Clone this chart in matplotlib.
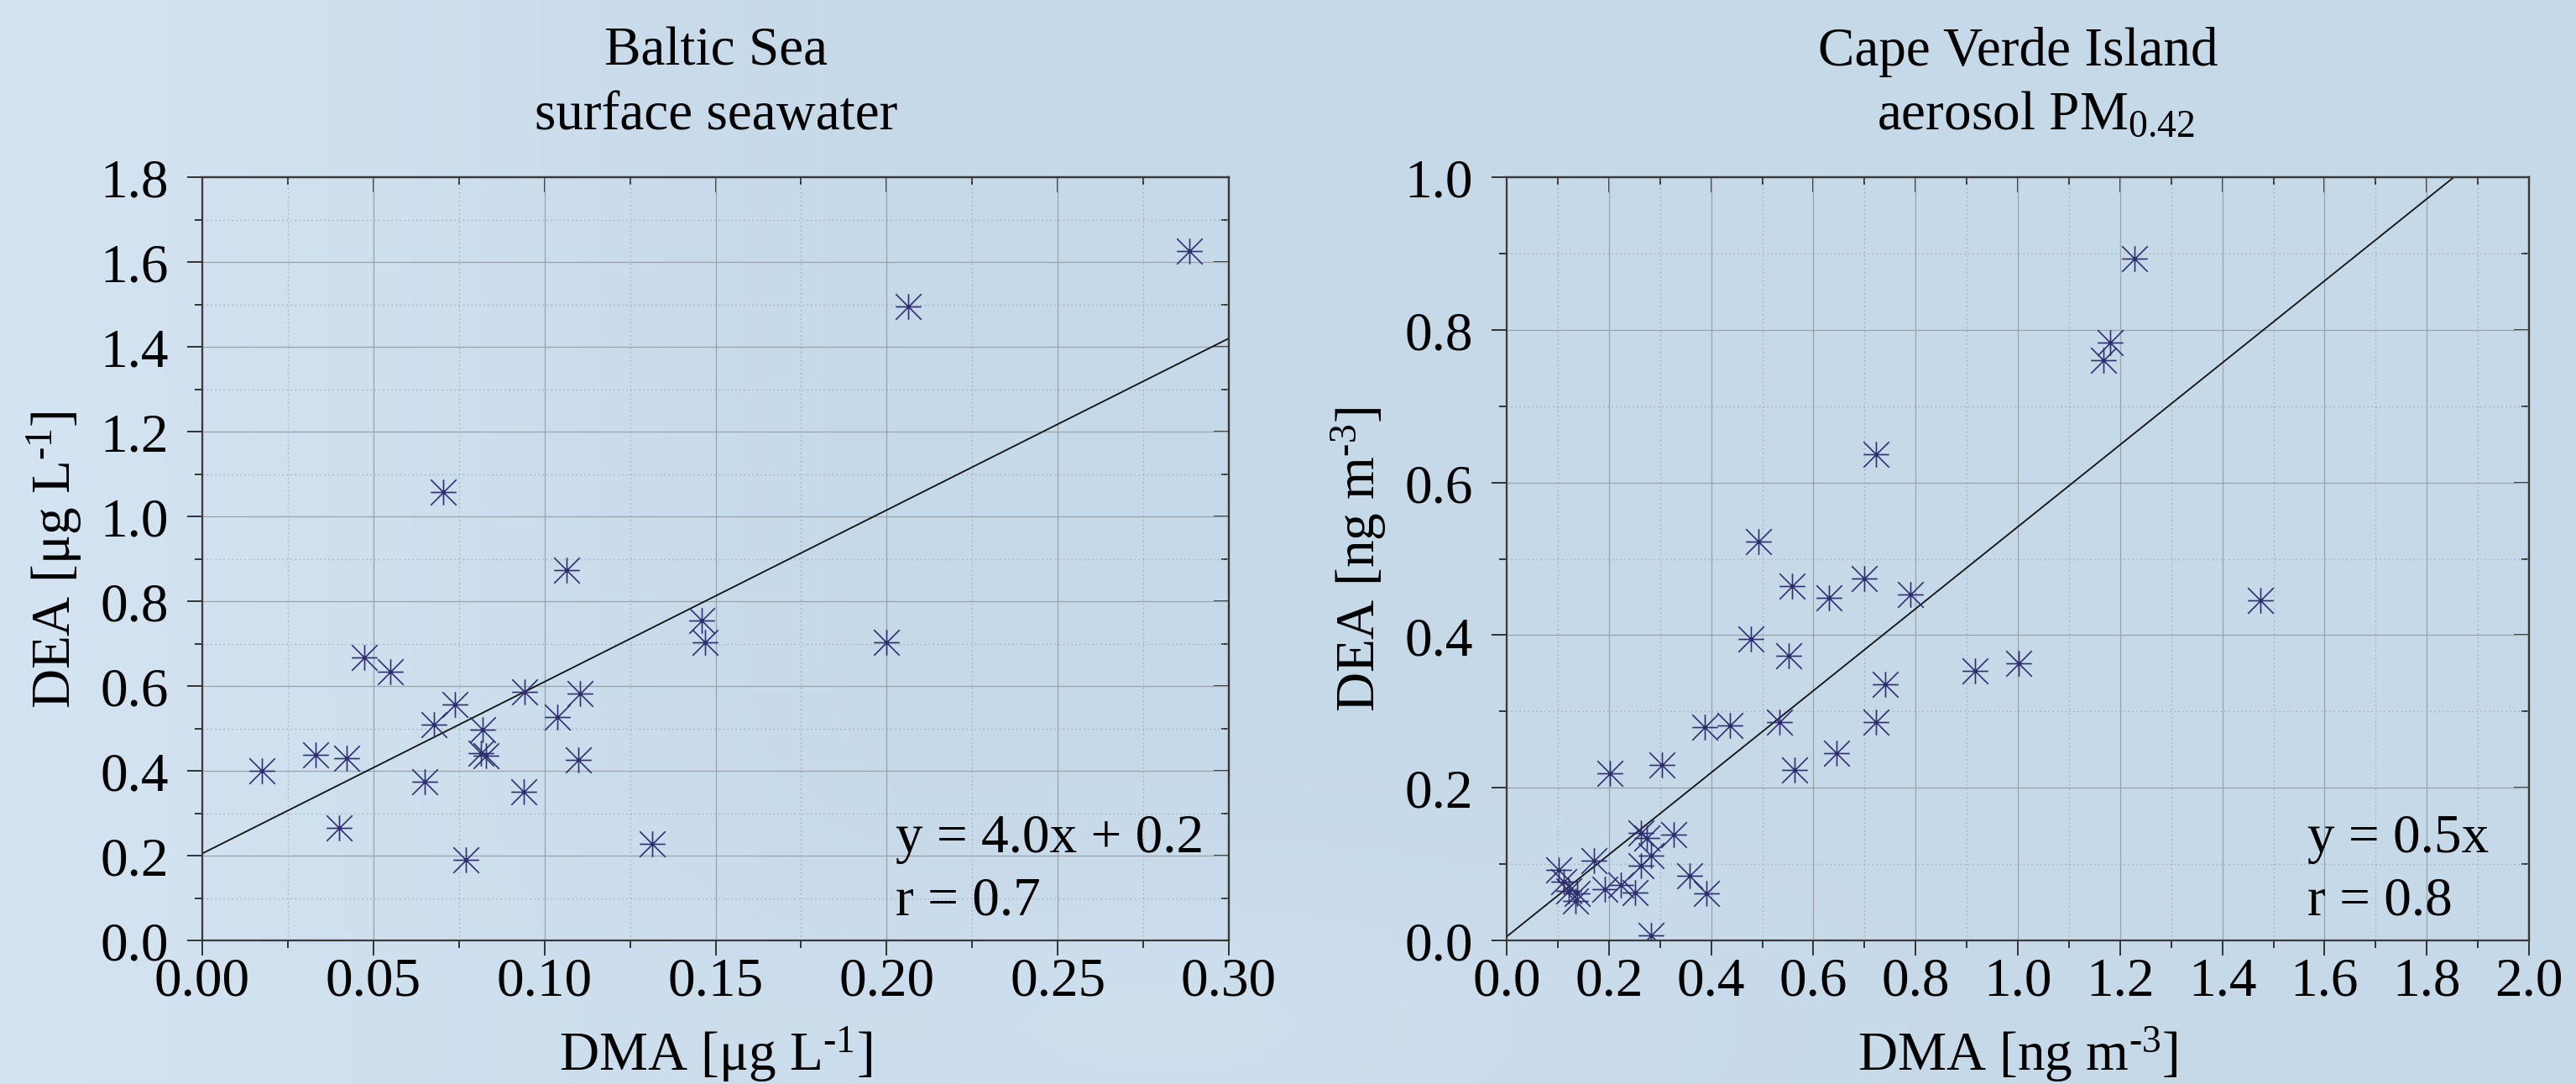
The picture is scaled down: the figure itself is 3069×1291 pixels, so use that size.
import matplotlib
matplotlib.use("Agg")
import matplotlib.pyplot as plt
import numpy as np
from matplotlib.path import Path
from matplotlib.ticker import MultipleLocator, FormatStrFormatter

# Baltic Sea - surface seawater [ug/L]
baltic_dma = [0.0175, 0.033, 0.0423, 0.040, 0.0474, 0.055, 0.0704, 0.0651, 0.0676,
              0.0739, 0.077, 0.082, 0.0814, 0.083, 0.0943, 0.094, 0.1065, 0.1038,
              0.1103, 0.110, 0.1315, 0.146, 0.147, 0.200, 0.2062, 0.2885]
baltic_dea = [0.40, 0.437, 0.429, 0.266, 0.668, 0.634, 1.057, 0.375, 0.508,
              0.556, 0.191, 0.498, 0.441, 0.435, 0.586, 0.350, 0.873, 0.526,
              0.582, 0.425, 0.227, 0.755, 0.703, 0.703, 1.495, 1.625]
baltic_fit = (4.05, 0.205)   # slope, intercept as drawn

# Cape Verde Island - aerosol PM0.42 [ng/m3]
cv_dma = [1.228, 1.181, 1.167, 0.722, 0.493, 0.559, 0.630, 0.700, 0.789, 1.474,
          0.478, 0.551, 0.916, 1.001, 0.740, 0.387, 0.436, 0.534, 0.722, 0.646,
          0.563, 0.202, 0.304, 0.263, 0.275, 0.327, 0.283, 0.263, 0.171, 0.358,
          0.101, 0.111, 0.121, 0.135, 0.192, 0.223, 0.252, 0.391, 0.282, 0.138]
cv_dea = [0.893, 0.783, 0.760, 0.637, 0.523, 0.464, 0.449, 0.474, 0.453, 0.446,
          0.395, 0.373, 0.353, 0.363, 0.336, 0.279, 0.282, 0.286, 0.286, 0.245,
          0.223, 0.219, 0.230, 0.141, 0.134, 0.139, 0.111, 0.098, 0.104, 0.085,
          0.092, 0.077, 0.065, 0.052, 0.067, 0.073, 0.063, 0.062, 0.007, 0.062]
cv_fit = (0.537, 0.005)

plt.rcParams['font.family'] = ['Liberation Serif', 'DejaVu Serif']
plt.rcParams['mathtext.fontset'] = 'custom'
plt.rcParams['mathtext.rm'] = 'Liberation Serif'
plt.rcParams['mathtext.it'] = 'Liberation Serif:italic'
plt.rcParams['mathtext.default'] = 'regular'

FS = 47
W, H = 3069, 1292
fig = plt.figure(figsize=(30.69, 12.919), dpi=100)

# soft sky-blue background
bg = fig.add_axes([0, 0, 1, 1], zorder=-10)
gx = np.linspace(0, 1, 300)
gy = np.linspace(0, 1, 130)
X, Y = np.meshgrid(gx, gy)
c_light = np.array([0.835, 0.894, 0.950])
c_mid = np.array([0.776, 0.851, 0.914])
t = np.clip(X / 0.35, 0, 1)[..., None]
img = c_light * (1 - t) + c_mid * t
cloud = np.exp(-((X - 0.45) ** 2 / 0.05 + (Y - 0.05) ** 2 / 0.03))[..., None]
img = img * (1 - 0.5 * cloud) + c_light * 0.5 * cloud
bg.imshow(img, extent=[0, 1, 0, 1], aspect='auto', origin='lower')
bg.axis('off')

verts = [(-1, 0), (1, 0), (0, -1), (0, 1), (-1, -1), (1, 1), (-1, 1), (1, -1)]
codes = [Path.MOVETO, Path.LINETO] * 4
asterisk = Path(verts, codes)

top_px, bot_px = 212, 1121
panels = [
    dict(x0=241, x1=1464, xd=baltic_dma, yd=baltic_dea, fit=baltic_fit,
         xlim=0.30, ylim=1.8, xmaj=0.05, xmin=0.025, ymaj=0.2, ymin=0.1,
         xfmt='%.2f', yfmt='%.1f',
         xlabel=r'DMA [$\mu$g L$^{\text{-1}}$]', ylabel=r'DEA [$\mu$g L$^{\text{-1}}$]',
         t1='Baltic Sea', t2='surface seawater', t2x=853,
         eq1='y = 4.0x + 0.2', eq2='r = 0.7', eqx=0.675),
    dict(x0=1795, x1=3013, xd=cv_dma, yd=cv_dea, fit=cv_fit,
         xlim=2.0, ylim=1.0, xmaj=0.2, xmin=0.1, ymaj=0.2, ymin=0.1,
         xfmt='%.1f', yfmt='%.1f',
         xlabel=r'DMA [ng m$^{\text{-3}}$]', ylabel=r'DEA [ng m$^{\text{-3}}$]',
         t1='Cape Verde Island', t2=r'aerosol PM$_{0.42}$', t2x=2425,
         eq1='y = 0.5x', eq2='r = 0.8', eqx=0.783),
]

for p in panels:
    ax = fig.add_axes([p['x0'] / W, 1 - bot_px / H, (p['x1'] - p['x0']) / W,
                       (bot_px - top_px) / H])
    ax.set_facecolor('none')
    ax.set_xlim(0, p['xlim'])
    ax.set_ylim(0, p['ylim'])
    ax.xaxis.set_major_locator(MultipleLocator(p['xmaj']))
    ax.xaxis.set_minor_locator(MultipleLocator(p['xmin']))
    ax.yaxis.set_major_locator(MultipleLocator(p['ymaj']))
    ax.yaxis.set_minor_locator(MultipleLocator(p['ymin']))
    ax.xaxis.set_major_formatter(FormatStrFormatter(p['xfmt']))
    ax.yaxis.set_major_formatter(FormatStrFormatter(p['yfmt']))

    ax.grid(True, which='major', color='#9aa2aa', lw=0.9, ls='-')
    ax.grid(True, which='minor', color='#9aa2aa', lw=0.9, ls=(0, (1, 3)))
    ax.set_axisbelow(True)

    ax.tick_params(which='major', direction='out', length=13, width=1.4,
                   labelsize=FS, pad=16, color='#333333')
    ax.tick_params(which='minor', direction='out', length=6.5, width=1.4,
                   color='#333333')
    ax.tick_params(axis='x', which='major', pad=1)
    for s in ax.spines.values():
        s.set_color('#3a3a3a')
        s.set_linewidth(1.6)

    # inward ticks on the top and right sides
    top = ax.secondary_xaxis('top')
    right = ax.secondary_yaxis('right')
    for sec, loc_maj, loc_min in [(top, p['xmaj'], p['xmin']), (right, p['ymaj'], p['ymin'])]:
        sec_axis = sec.xaxis if sec is top else sec.yaxis
        sec_axis.set_major_locator(MultipleLocator(loc_maj))
        sec_axis.set_minor_locator(MultipleLocator(loc_min))
        sec.tick_params(which='major', direction='in', length=13, width=1.4,
                        labelsize=0, color='#333333')
        sec.tick_params(which='minor', direction='in', length=6.5, width=1.4,
                        color='#333333')
        sec_axis.set_ticklabels([])
        for s in sec.spines.values():
            s.set_color('#3a3a3a')
            s.set_linewidth(1.6)

    xs = np.array([0, p['xlim']])
    ax.plot(xs, p['fit'][0] * xs + p['fit'][1], color='#111111', lw=1.3)
    ax.plot(p['xd'], p['yd'], ls='none', marker=asterisk, ms=22,
            mec='#2f2f70', mfc='none', mew=1.2)

    ax.set_ylabel(p['ylabel'], fontsize=FS, labelpad=14)

    ax.text(p['eqx'], 0.117, p['eq1'], transform=ax.transAxes, fontsize=FS,
            va='baseline', ha='left')
    ax.text(p['eqx'], 0.035, p['eq2'], transform=ax.transAxes, fontsize=FS,
            va='baseline', ha='left')

    cx = (p['x0'] + p['x1']) / 2 / W
    fig.text(cx, 1 - 78 / H, p['t1'], fontsize=FS, ha='center', va='baseline')
    fig.text(p['t2x'] / W, 1 - 154 / H, p['t2'], fontsize=FS, ha='center',
             va='baseline')
    fig.text(cx, 1 - 1274 / H, p['xlabel'], fontsize=FS, ha='center',
             va='baseline')

fig.savefig('out.png', dpi=100)
